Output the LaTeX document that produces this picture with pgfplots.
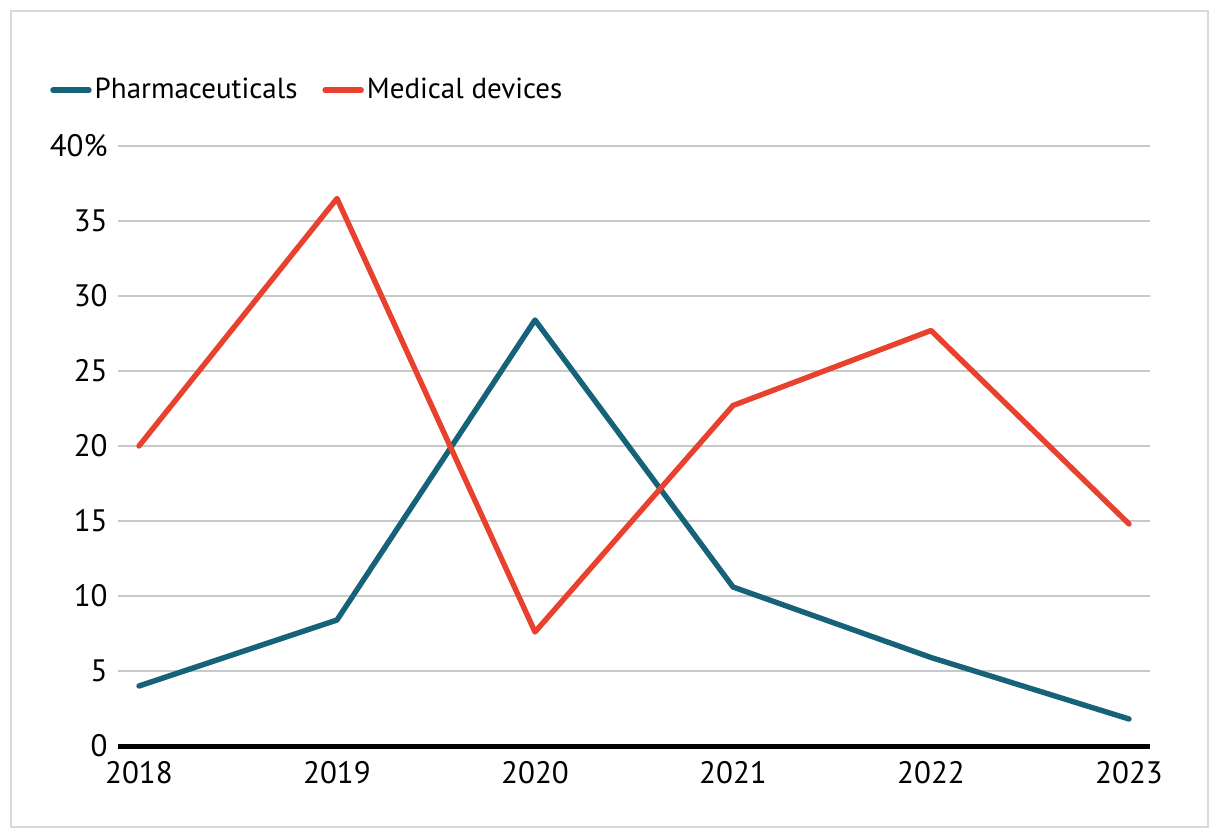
\documentclass[border=0pt]{standalone}
\usepackage{fontspec}
\setmainfont{PT Sans}
\usepackage{pgfplots}
\pgfplotsset{compat=1.18}
\definecolor{pharma}{RGB}{22,98,120}
\definecolor{medical}{RGB}{232,65,45}
\definecolor{gridgray}{RGB}{200,200,200}
\definecolor{framegray}{RGB}{217,217,217}
\begin{document}
\fontsize{15.5}{18}\selectfont
\begin{tikzpicture}
	% page = 1220x838 px at 0.5pt per px, origin at top left
	\useasboundingbox (0pt,0pt) rectangle (610pt,-419pt);
	\draw[framegray, line width=1pt] (5.5pt,-5.5pt) rectangle (604pt,-413.5pt);
	\begin{axis}[
	at={(59pt,-373pt)}, anchor=south west,
	scale only axis,
	width=516pt, height=300pt,
	xmin=-0.106, xmax=5.106,
	ymin=0, ymax=40,
	axis x line*=bottom,
	axis y line*=left,
	x axis line style={black, line width=2.5pt},
	y axis line style={draw=none},
	major tick length=0pt,
	xtick={0,1,2,3,4,5},
	xticklabels={2018,2019,2020,2021,2022,2023},
	ytick={0,5,10,15,20,25,30,35,40},
	yticklabels={0,5,10,15,20,25,30,35,40\%},
	ymajorgrids,
	grid style={gridgray, line width=1pt},
	xticklabel style={anchor=north, inner sep=0pt, yshift=-7.5pt},
	yticklabel style={anchor=east, inner sep=0pt, xshift=-5pt},
	ticklabel style={font=\fontsize{15.5}{18}\selectfont},
	/pgf/number format/assume math mode=true,
	legend columns=-1,
	legend style={at={(axis description cs:-0.066,1.093)}, anchor=west,
		draw=none, fill=none, inner sep=0pt,
		font=\fontsize{14.5}{17}\selectfont,
		nodes={inner sep=1.5pt, anchor=west},
		/tikz/every even column/.append style={column sep=11pt}},
	legend image code/.code={\draw[#1, line cap=round] (0pt,0pt) -- (18pt,0pt);},
	every axis plot/.append style={line width=2.7pt, line join=round, line cap=round, mark=none},
	clip=false,
	]
	\addplot[pharma] coordinates {(0,4.0) (1,8.4) (2,28.4) (3,10.6) (4,5.9) (5,1.8)};
	\addplot[medical] coordinates {(0,20.0) (1,36.5) (2,7.6) (3,22.7) (4,27.7) (5,14.8)};
	\legend{Pharmaceuticals, Medical devices}
	\end{axis}
\end{tikzpicture}
\end{document}
